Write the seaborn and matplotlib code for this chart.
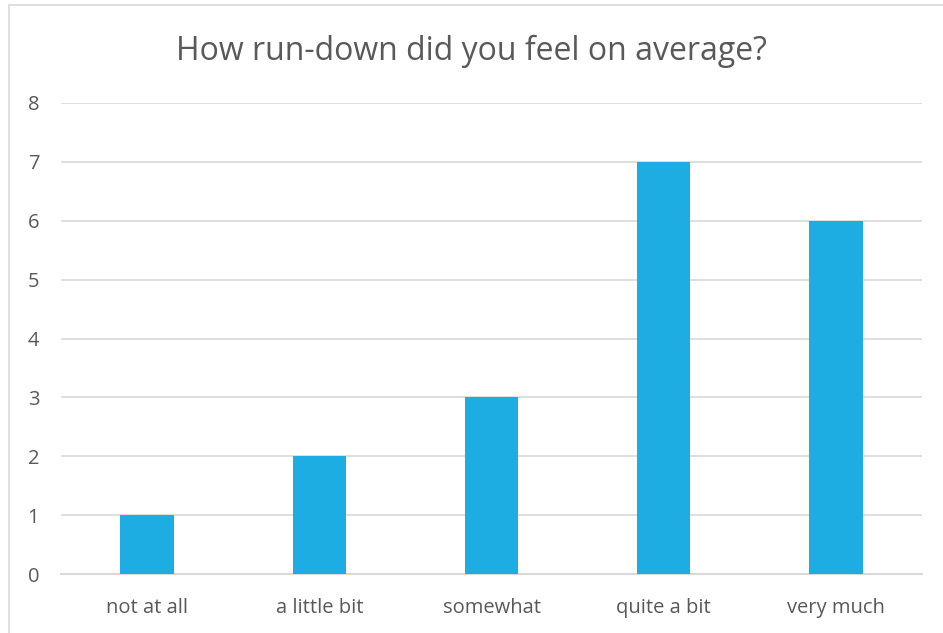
import matplotlib
matplotlib.use('Agg')
import matplotlib.pyplot as plt
import seaborn as sns
import pandas as pd
from matplotlib.patches import Rectangle

# Datos del gráfico
categorias = ['not at all', 'a little bit', 'somewhat', 'quite a bit', 'very much']
valores = [1, 2, 3, 7, 6]
ticks_y = [0, 1, 2, 3, 4, 5, 6, 7, 8]

df = pd.DataFrame({'categoria': categorias, 'valor': valores})

sns.set_style('white')
plt.rcParams['font.family'] = ['Open Sans', 'DejaVu Sans']

fig = plt.figure(figsize=(9.43, 6.33), dpi=100)
ax = fig.add_axes([61 / 943, 59 / 633, 861 / 943, 471 / 633])

sns.barplot(data=df, x='categoria', y='valor', color='#1EADE3', width=0.31,
            saturation=1, linewidth=0, ax=ax, zorder=3)

# Rejilla horizontal
ax.set_ylim(0, 8)
ax.set_yticks(ticks_y)
ax.yaxis.grid(True, color='#D9D9D9', linewidth=1.2, zorder=0)
ax.set_axisbelow(True)
for lado in ['top', 'right', 'left']:
    ax.spines[lado].set_visible(False)
ax.spines['bottom'].set_color('#D9D9D9')
ax.spines['bottom'].set_linewidth(1.5)

ax.tick_params(axis='both', length=0, labelsize=14.5, labelcolor='#595959')
ax.tick_params(axis='y', pad=24)
ax.tick_params(axis='x', pad=17)
for lbl in ax.get_yticklabels():
    lbl.set_horizontalalignment('left')
ax.set_xlabel('')
ax.set_ylabel('')

fig.text(0.5, 1 - 51 / 633, 'How run-down did you feel on average?', ha='center', va='center',
         fontsize=23, color='#595959')

# Borde del área del gráfico
fig.patches.append(Rectangle((9 / 943, -0.1), 1.2, 1.1 - 5 / 633, transform=fig.transFigure,
                             fill=False, edgecolor='#D9D9D9', linewidth=1.2))

fig.savefig('out.png', dpi=100)
